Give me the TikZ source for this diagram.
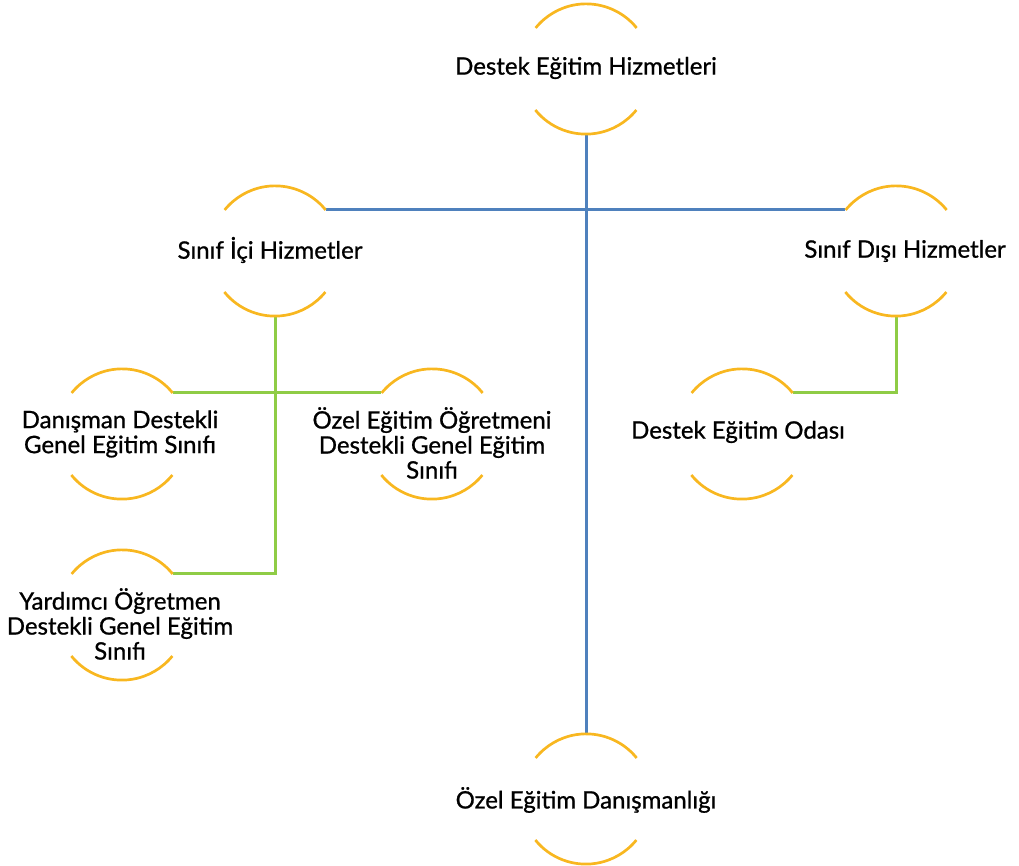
\documentclass[tikz,border=0pt]{standalone}
\usepackage{fontspec}
\setmainfont{Lato}
\newfontface\medfont{Lato}[FakeBold=0.9]
\definecolor{arcc}{RGB}{248,183,32}
\definecolor{bluec}{RGB}{79,129,189}
\definecolor{greenc}{RGB}{143,204,70}
\tikzset{
  ring/.style={circle, minimum size=130pt, inner sep=0pt},
  arcline/.style={draw=arcc, line width=2.7pt},
  lbl/.style={align=center, font=\medfont\fontsize{24}{25}\selectfont, text=black, inner sep=0pt},
  blueline/.style={draw=bluec, line width=3pt},
  greenline/.style={draw=greenc, line width=3pt}
}
\newcommand{\ringarcs}[1]{%
  \draw[arcline] (#1.39) arc[start angle=39,end angle=141,radius=65pt];
  \draw[arcline] (#1.219) arc[start angle=219,end angle=321,radius=65pt];}
\begin{document}
\begin{tikzpicture}[x=1pt,y=1pt]
\useasboundingbox (0,0) rectangle (1019,866);
% rings
\node[ring] (root) at (586,797) {};
\node[ring] (ici) at (275,615) {};
\node[ring] (disi) at (896,615) {};
\node[ring] (dan) at (122,432) {};
\node[ring] (ozo) at (432,432) {};
\node[ring] (oda) at (742,432) {};
\node[ring] (yar) at (122,251) {};
\node[ring] (odan) at (586,67) {};
% connectors
\coordinate (gy) at (ici.south |- yar.39);
\coordinate (gd) at (disi.south |- oda.39);
\draw[blueline] (root.south) -- (odan.north);
\draw[blueline] (ici.39) -- (disi.141);
\draw[greenline] (ici.south) -- (gy) -- (yar.39);
\draw[greenline] (dan.39) -- (ozo.141);
\draw[greenline] (disi.south) -- (gd) -- (oda.39);
% arcs
\ringarcs{root}\ringarcs{ici}\ringarcs{disi}\ringarcs{dan}
\ringarcs{ozo}\ringarcs{oda}\ringarcs{yar}\ringarcs{odan}
% labels
\node[lbl] (troot) at (586,798) {Destek Eğitim Hizmetleri};
\node[lbl] (tici) at (270,616) {Sınıf İçi Hizmetler};
\node[lbl] (tdisi) at (905,615) {Sınıf Dışı Hizmetler};
\node[lbl] (tdan) at (120,432) {Danışman Destekli\\Genel Eğitim Sınıfı};
\node[lbl] (tozo) at (432,423) {Özel Eğitim Öğretmeni\\Destekli Genel Eğitim\\Sınıfı};
\node[lbl] (toda) at (738,434) {Destek Eğitim Odası};
\node[lbl] (tyar) at (120,242) {Yardımcı Öğretmen\\Destekli Genel Eğitim\\Sınıfı};
\node[lbl] (todan) at (586,66) {Özel Eğitim Danışmanlığı};
\end{tikzpicture}
\end{document}
